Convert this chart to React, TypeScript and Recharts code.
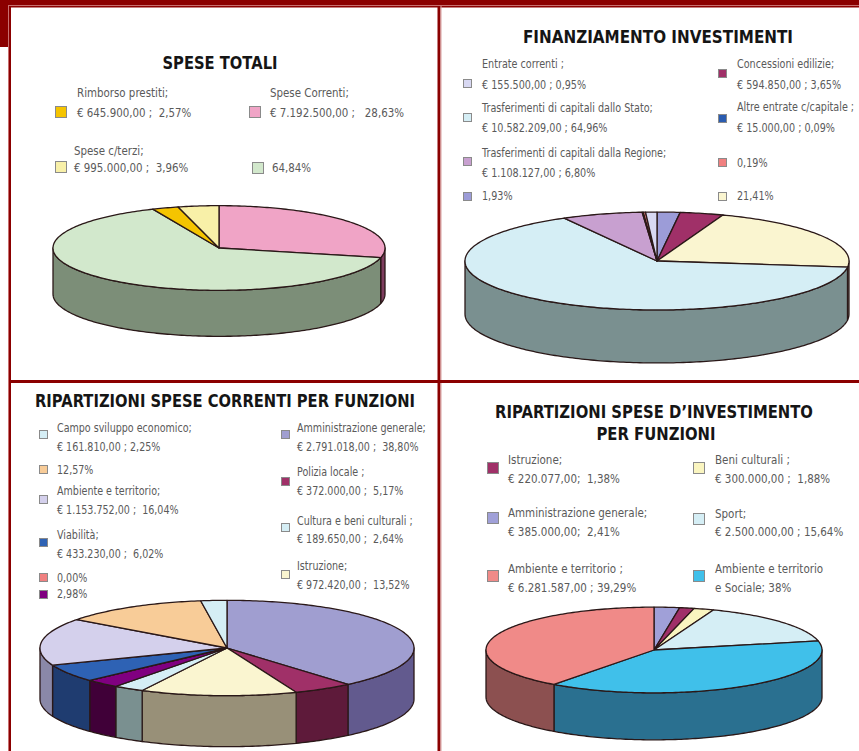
import React from 'react';
import { PieChart, Pie, Cell } from 'recharts';

const FONT = "'DejaVu Sans', 'Liberation Sans', sans-serif";
const TITLE_FONT = "'DejaVu Sans', 'Liberation Sans', sans-serif";

// ---------- Panel 1: SPESE TOTALI ----------
const TL_NAMES = ['Spese Correnti', 'Altro', 'Rimborso prestiti', 'Spese c/terzi'];
const TL_VALUES = [28.63, 64.84, 2.57, 3.96];
const TL_COLORS = ['#f0a4c6', '#d2e8cc', '#f5c400', '#f8f0a8'];
const TL_SIDES = ['#7e3c5e', '#7c8e78', '#8c7410', '#9a9466'];

// ---------- Panel 2: FINANZIAMENTO INVESTIMENTI ----------
const TR_NAMES = ['1,93%', 'Concessioni edilizie', '21,41%', 'Trasferimenti dallo Stato', 'Trasferimenti dalla Regione', 'Altre entrate c/capitale', '0,19%', 'Entrate correnti'];
const TR_VALUES = [1.93, 3.65, 21.41, 64.96, 6.8, 0.09, 0.19, 0.95];
const TR_COLORS = ['#9c9cd8', '#a03068', '#faf5d0', '#d5eef5', '#c8a0d0', '#2a5cb0', '#f08080', '#d8d8f2'];
const TR_SIDES = ['#5c5c80', '#601c3c', '#96927c', '#7a9090', '#786080', '#183468', '#904848', '#7c7c90'];

// ---------- Panel 3: RIPARTIZIONI SPESE CORRENTI ----------
const BL_NAMES = ['Amministrazione generale', 'Polizia locale', 'Istruzione', 'Cultura e beni culturali', '2,98%', '0,00%', 'Viabilità', 'Ambiente e territorio', '12,57%', 'Campo sviluppo economico'];
const BL_VALUES = [38.8, 5.17, 13.52, 2.64, 2.98, 0.0, 6.02, 16.04, 12.57, 2.25];
const BL_COLORS = ['#a09ed0', '#a03068', '#faf5d0', '#d5eef5', '#800080', '#f08080', '#2e62b4', '#d4d0ec', '#f8cc98', '#d5eef5'];
const BL_SIDES = ['#625a8e', '#5e1a3a', '#989078', '#7a9090', '#400038', '#904848', '#1f3c70', '#8a88a8', '#98785a', '#7a9090'];

// ---------- Panel 4: RIPARTIZIONI SPESE D'INVESTIMENTO ----------
const BR_NAMES = ['Amministrazione generale', 'Istruzione', 'Beni culturali', 'Sport', 'Ambiente e territorio e Sociale', 'Ambiente e territorio'];
const BR_VALUES = [2.41, 1.38, 1.88, 15.64, 38, 39.29];
const BR_COLORS = ['#a0a0d8', '#a03068', '#faf5c0', '#d5eef5', '#40c0ea', '#f08a88'];
const BR_SIDES = ['#5c5c80', '#601c3c', '#96927a', '#7a9090', '#2a7090', '#8c5050'];

// ---------- Legends ----------
const TL_LEGEND = [
  ['Rimborso prestiti;', '€ 645.900,00 ;  2,57%'],
  ['Spese Correnti;', '€ 7.192.500,00 ;   28,63%'],
  ['Spese c/terzi;', '€ 995.000,00 ;  3,96%'],
  ['64,84%'],
];
const TL_LEGEND_COLORS = ['#f5c400', '#f0a4c6', '#f8f0a8', '#d2e8cc'];

const TR_LEGEND = [
  ['Entrate correnti ;', '€ 155.500,00 ; 0,95%'],
  ['Trasferimenti di capitali dallo Stato;', '€ 10.582.209,00 ; 64,96%'],
  ['Trasferimenti di capitali dalla Regione;', '€ 1.108.127,00 ; 6,80%'],
  ['1,93%'],
  ['Concessioni edilizie;', '€ 594.850,00 ; 3,65%'],
  ['Altre entrate c/capitale ;', '€ 15.000,00 ; 0,09%'],
  ['0,19%'],
  ['21,41%'],
];
const TR_LEGEND_COLORS = ['#d8d8f2', '#d5eef5', '#c8a0d0', '#9c9cd8', '#a03068', '#2a5cb0', '#f08080', '#faf5d0'];

const BL_LEGEND = [
  ['Campo sviluppo economico;', '€ 161.810,00 ; 2,25%'],
  ['12,57%'],
  ['Ambiente e territorio;', '€ 1.153.752,00 ;  16,04%'],
  ['Viabilità;', '€ 433.230,00 ;  6,02%'],
  ['0,00%'],
  ['2,98%'],
  ['Amministrazione generale;', '€ 2.791.018,00 ;  38,80%'],
  ['Polizia locale ;', '€ 372.000,00 ;  5,17%'],
  ['Cultura e beni culturali ;', '€ 189.650,00 ;  2,64%'],
  ['Istruzione;', '€ 972.420,00 ;  13,52%'],
];
const BL_LEGEND_COLORS = ['#d5eef5', '#f8cc98', '#d4d0ec', '#2e62b4', '#f08080', '#800080', '#a09ed0', '#a03068', '#d5eef5', '#faf5d0'];

const BR_LEGEND = [
  ['Istruzione;', '€ 220.077,00;  1,38%'],
  ['Amministrazione generale;', '€ 385.000,00;  2,41%'],
  ['Ambiente e territorio ;', '€ 6.281.587,00 ; 39,29%'],
  ['Beni culturali ;', '€ 300.000,00 ;  1,88%'],
  ['Sport;', '€ 2.500.000,00 ; 15,64%'],
  ['Ambiente e territorio', 'e Sociale; 38%'],
];
const BR_LEGEND_COLORS = ['#a03068', '#a0a0d8', '#f08a88', '#faf5c0', '#d5eef5', '#40c0ea'];

const TITLES = ['SPESE TOTALI', 'FINANZIAMENTO INVESTIMENTI', 'RIPARTIZIONI SPESE CORRENTI PER FUNZIONI', 'RIPARTIZIONI SPESE D\u2019INVESTIMENTO', 'PER FUNZIONI'];

// ---------- Layout (positions only) ----------
// [squareX, squareY, squareSize, textX, line1CenterY, line2CenterY]
const TL_POS = [
  [55, 106, 11, 77, 92, 112],
  [249, 106, 11, 270, 92, 112],
  [55, 161, 11, 74, 150, 167],
  [252, 162, 11, 272, 167, 0],
];
const TR_POS = [
  [463, 79, 8, 482, 63, 84],
  [463, 113, 8, 482, 107, 127],
  [463, 157, 8, 482, 152, 172],
  [463, 192, 8, 482, 195, 0],
  [718, 69, 8, 737, 63, 84],
  [718, 114, 8, 737, 106, 127],
  [718, 158, 8, 737, 162, 0],
  [718, 192, 8, 737, 195, 0],
];
const BL_POS = [
  [39, 430, 8, 57, 427, 446],
  [39, 465, 8, 57, 469, 0],
  [39, 495, 8, 57, 490, 509],
  [39, 538, 8, 57, 534, 553],
  [39, 573, 8, 57, 577, 0],
  [39, 590, 8, 57, 593, 0],
  [281, 430, 8, 297, 427, 446],
  [281, 477, 8, 297, 471, 490],
  [281, 523, 8, 297, 520, 538],
  [281, 570, 8, 297, 565, 584],
];
const BR_POS = [
  [487, 462, 11, 508, 459, 478],
  [487, 512, 11, 508, 512, 531],
  [487, 570, 11, 508, 568, 587],
  [693, 462, 11, 715, 459, 478],
  [693, 513, 11, 715, 513, 531],
  [693, 570, 11, 715, 568, 587],
];

const TILT = 0.255;
const STROKE = '#2a1818';

function build(names: string[], values: number[], colors: string[], sides: string[]) {
  return names.map((name, i) => ({ name, value: values[i], fill: colors[i], side: sides[i] }));
}

function make3D(depth: number) {
  return (props: any) => {
    const { cx, cy, outerRadius, startAngle, endAngle } = props;
    const fill = props.fill ?? props.payload?.fill;
    const side = props.payload?.side ?? props.side ?? fill;
    const rx = outerRadius;
    const ry = outerRadius * TILT;
    const s = Math.max(startAngle, endAngle);
    const e = Math.min(startAngle, endAngle);
    const arcPts = (a0: number, a1: number, dy: number) => {
      const n = Math.max(2, Math.ceil(Math.abs(a1 - a0)));
      const out: string[] = [];
      for (let k = 0; k <= n; k++) {
        const a = ((a0 + ((a1 - a0) * k) / n) * Math.PI) / 180;
        out.push(`${(cx + rx * Math.cos(a)).toFixed(2)},${(cy - ry * Math.sin(a) + dy).toFixed(2)}`);
      }
      return out;
    };
    const lo = Math.max(e, -180);
    const hi = Math.min(s, 0);
    let sidePath: string | null = null;
    if (hi > lo) {
      const top = arcPts(hi, lo, 0);
      const bot = arcPts(lo, hi, depth);
      sidePath = 'M' + top.join(' L') + ' L' + bot.join(' L') + ' Z';
    }
    const topPts = arcPts(s, e, 0);
    const topPath = `M${cx},${cy} L` + topPts.join(' L') + ' Z';
    return (
      <g>
        {sidePath && <path d={sidePath} fill={side} stroke={STROKE} strokeWidth={1.3} strokeLinejoin="round" />}
        <path d={topPath} fill={fill} stroke={STROKE} strokeWidth={1.3} strokeLinejoin="round" />
      </g>
    );
  };
}

function Legend(props: { items: string[][]; colors: string[]; pos: number[][]; fs: number; sc: number }) {
  const { items, colors, pos, fs, sc } = props;
  const line = (txt: string, x: number, cy: number) => (
    <text
      transform={`translate(${x},${cy + fs * 0.36}) scale(${sc},1)`}
      x={0}
      y={0}
      fontSize={fs}
      fill="#5a5a5a"
      fontFamily={FONT}
      style={{ whiteSpace: 'pre' }}
    >
      {txt}
    </text>
  );
  return (
    <g>
      {items.map((lines, i) => {
        const [sx, sy, sz, tx, y1, y2] = pos[i];
        return (
          <g key={i}>
            <rect x={sx + 0.5} y={sy + 0.5} width={sz} height={sz} fill={colors[i]} stroke="#8a8a8a" strokeWidth={1} />
            {line(lines[0], tx, y1)}
            {lines[1] && line(lines[1], tx, y2)}
          </g>
        );
      })}
    </g>
  );
}

function Title(props: { text: string; cx: number; cy: number; w: number; fs: number }) {
  const { text, cx, cy, w, fs } = props;
  return (
    <text
      x={cx - w / 2}
      y={cy + fs * 0.36}
      fontSize={fs}
      fontWeight="bold"
      fill="#151515"
      fontFamily={TITLE_FONT}
      textLength={w}
      lengthAdjust="spacingAndGlyphs"
    >
      {text}
    </text>
  );
}

const DARK = '#8b0000';
const LIGHT = '#c87070';

export default function App() {
  const tl = build(TL_NAMES, TL_VALUES, TL_COLORS, TL_SIDES);
  const tr = build(TR_NAMES, TR_VALUES, TR_COLORS, TR_SIDES);
  const bl = build(BL_NAMES, BL_VALUES, BL_COLORS, BL_SIDES);
  const br = build(BR_NAMES, BR_VALUES, BR_COLORS, BR_SIDES);

  const pies = [
    { data: tl, cx: 219, cy: 248, r: 166, depth: 46 },
    { data: tr, cx: 657, cy: 261, r: 192, depth: 53 },
    { data: bl, cx: 227, cy: 648, r: 187, depth: 51 },
    { data: br, cx: 654, cy: 650, r: 168, depth: 47 },
  ];

  return (
    <div style={{ position: 'absolute', left: 0, top: 0, width: 859, height: 751, background: '#fff', overflow: 'hidden' }}>
      <div style={{ position: 'absolute', left: 0, top: 0 }}>
        <PieChart width={859} height={751} margin={{ top: 0, right: 0, bottom: 0, left: 0 }}>
          {pies.map((p, k) => {
            const sh = make3D(p.depth);
            return (
              <Pie
                key={k}
                data={p.data}
                dataKey="value"
                nameKey="name"
                cx={p.cx}
                cy={p.cy}
                innerRadius={0}
                outerRadius={p.r}
                startAngle={90}
                endAngle={-270}
                isAnimationActive={false}
                label={false}
                labelLine={false}
                stroke="none"
                shape={sh}
                inactiveShape={sh}
                activeShape={sh}
              >
                {p.data.map((d: any, i: number) => (
                  <Cell key={i} fill={d.fill} />
                ))}
              </Pie>
            );
          })}
        </PieChart>
      </div>
      <svg width={859} height={751} style={{ position: 'absolute', left: 0, top: 0, pointerEvents: 'none' }}>
        {/* frame */}
        <rect x={0} y={0} width={859} height={5} fill={DARK} />
        <rect x={0} y={5} width={859} height={1} fill={LIGHT} />
        <rect x={0} y={6} width={859} height={1.5} fill={DARK} />
        <rect x={0} y={0} width={8} height={47} fill={DARK} />
        <rect x={8} y={5} width={1} height={746} fill={LIGHT} />
        <rect x={9} y={6} width={2} height={745} fill={DARK} />
        <rect x={437.5} y={6} width={3} height={745} fill={DARK} />
        <rect x={440.5} y={6} width={1} height={745} fill="#d8a0a0" />
        <rect x={9} y={380} width={850} height={3} fill={DARK} />

        <Title text={TITLES[0]} cx={220} cy={63} w={115} fs={18} />
        <Title text={TITLES[1]} cx={658} cy={37} w={270} fs={18} />
        <Title text={TITLES[2]} cx={225} cy={401} w={380} fs={18} />
        <Title text={TITLES[3]} cx={654} cy={412} w={318} fs={18} />
        <Title text={TITLES[4]} cx={656} cy={434} w={119} fs={18} />

        <Legend items={TL_LEGEND} colors={TL_LEGEND_COLORS} pos={TL_POS} fs={13} sc={0.79} />
        <Legend items={TR_LEGEND} colors={TR_LEGEND_COLORS} pos={TR_POS} fs={12.5} sc={0.77} />
        <Legend items={BL_LEGEND} colors={BL_LEGEND_COLORS} pos={BL_POS} fs={12.5} sc={0.765} />
        <Legend items={BR_LEGEND} colors={BR_LEGEND_COLORS} pos={BR_POS} fs={13} sc={0.795} />
      </svg>
    </div>
  );
}
